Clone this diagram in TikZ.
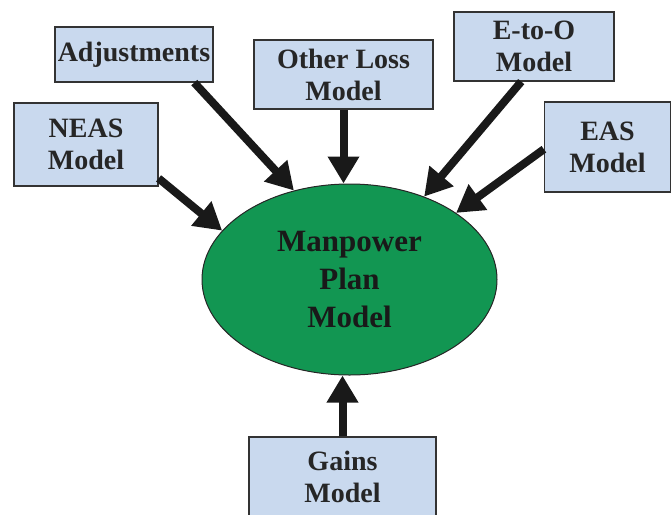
\documentclass[tikz,border=0pt]{standalone}
\usepackage{fontspec}
\setmainfont{Liberation Serif}
\usetikzlibrary{
	arrows.meta			% Allows Triangle[...] arrow tips
	, shapes.geometric	% Allows ellipse shaped nodes
}
\definecolor{boxblue}{RGB}{201,217,238}
\definecolor{plangreen}{RGB}{18,150,82}

\begin{document}
\begin{tikzpicture}[
		x=1pt, y=-1pt
		, model/.style={draw=black!80, line width=1.2pt, fill=boxblue, inner sep=0pt, align=center, text=black!85, font=\bfseries\fontsize{28}{32}\selectfont}
		, core/.style={ellipse, draw=black!85, line width=1pt, fill=plangreen, inner sep=0pt, minimum width=295pt, minimum height=191pt, align=center, text=black!90, font=\bfseries\fontsize{31}{38}\selectfont}
		, feed/.style={-{Triangle[length=27pt, width=30pt]}, line width=8pt, color=black!90}]

		%%% Frame
		\useasboundingbox (0,0) rectangle (671,514);

		%%% Central model
		\node[core] (manpower) at (349.5,279.5) {Manpower\\Plan\\Model};

		%%% Input models
		%% Upper row
		\node[model, minimum width=158pt, minimum height=55pt] (adjustments) at (134,54.5) {Adjustments};
		\node[model, minimum width=179pt, minimum height=69pt] (otherloss) at (343.5,74.5) {Other Loss\\Model};
		\node[model, minimum width=160pt, minimum height=69pt] (etoo) at (534,46.5) {E-to-O\\Model};

		%% Side boxes
		\node[model, minimum width=144pt, minimum height=83pt] (neas) at (86,144.5) {NEAS\\Model};
		\node[model, minimum width=126pt, minimum height=90pt] (eas) at (607.5,147) {EAS\\Model};

		%% Bottom box
		\node[model, minimum width=187pt, minimum height=80pt] (gains) at (342.5,477) {Gains\\Model};

		%%% Feeds into the plan model
		\draw[feed] (adjustments.-25) -- (manpower.122.9);
		\draw[feed] (neas.-25.6) -- (manpower.159.9);
		\draw[feed] (otherloss.south) -- (otherloss.south |- manpower.north);
		\draw[feed] (etoo.250.8) -- (manpower.48.7);
		\draw[feed] (eas.182) -- (manpower.32.4);
		\draw[feed] (gains.north) -- (gains.north |- manpower.south);
	\end{tikzpicture}
\end{document}
